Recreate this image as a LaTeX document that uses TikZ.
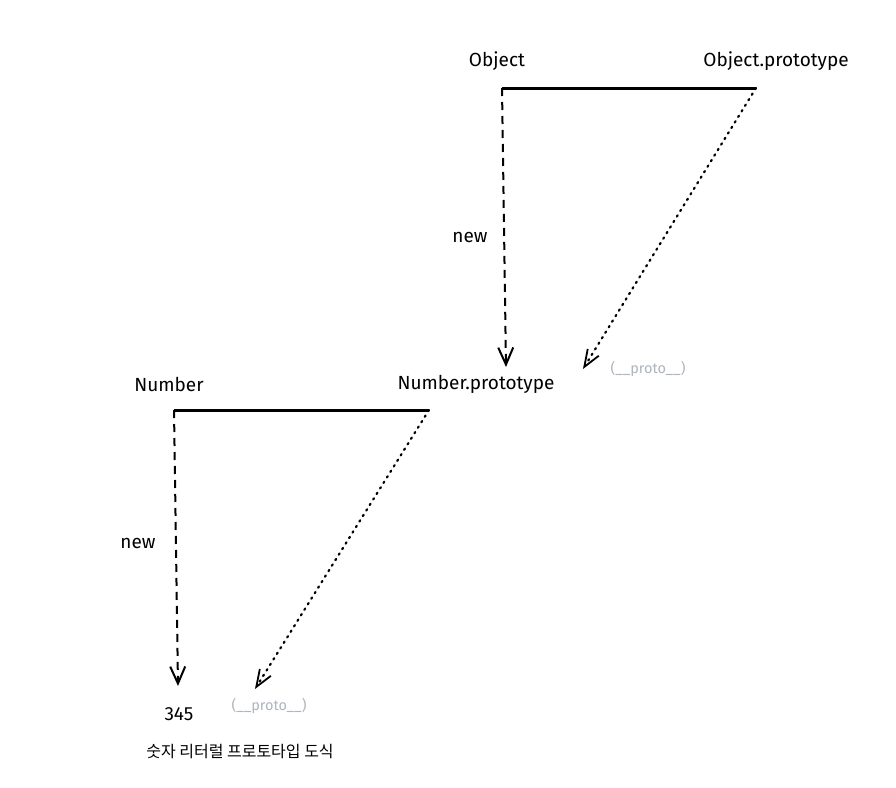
\documentclass[tikz,border=0pt]{standalone}
\usepackage{fontspec}
\setmainfont{Fira Sans}
\newfontfamily\krfont{Noto Sans CJK KR}
\usetikzlibrary{arrows.meta}
\definecolor{protogray}{HTML}{ADB5BF}
\tikzset{
  lbl/.style={font=\fontsize{19}{21}\selectfont, inner sep=0pt, anchor=center},
  protolbl/.style={font=\fontsize{14.5}{16}\selectfont, text=protogray, inner sep=0pt},
  solidbar/.style={line width=3pt},
  newarrow/.style={line width=2pt, dash pattern=on 8pt off 6pt, -{Straight Barb[length=17pt,width=15pt,line width=2pt]}},
  protoarrow/.style={line width=2.2pt, dash pattern=on 1.5pt off 5pt, line cap=round, -{Straight Barb[length=17pt,width=13pt,line width=1.8pt]}}
}
\begin{document}
\begin{tikzpicture}[x=1pt,y=-1pt]
\useasboundingbox (0,0) rectangle (896,787);
\fill[white] (0,0) rectangle (896,787);
% top group
\node[lbl] (obj) at (497,61) {Object};
\node[lbl] (objp) at (776,61) {Object.prototype};
\coordinate (o1) at (502,88);
\coordinate (o2) at (756,88);
\draw[solidbar] (o1) -- (o2);
\coordinate (o1e) at (506,367);
\coordinate (o2e) at (583,369);
\draw[newarrow] (o1) -- (o1e);
\draw[protoarrow] (o2) -- (o2e);
\node[lbl] (new1) at (470,237) {new};
\node[protolbl] (proto1) at (648,369) {(\_\_proto\_\_)};
% bottom group
\node[lbl] (num) at (169,384) {Number};
\node[lbl] (nump) at (476,384) {Number.prototype};
\coordinate (n1) at (174,410);
\coordinate (n2) at (429,410);
\draw[solidbar] (n1) -- (n2);
\coordinate (n1e) at (178,686);
\coordinate (n2e) at (255,689);
\draw[newarrow] (n1) -- (n1e);
\draw[protoarrow] (n2) -- (n2e);
\node[lbl] (new2) at (138,543) {new};
\node[protolbl] (proto2) at (269,706) {(\_\_proto\_\_)};
\node[lbl] (val) at (179,714) {345};
\node[font=\krfont\fontsize{16}{18}\selectfont, inner sep=0pt] (cap) at (240,752) {숫자 리터럴 프로토타입 도식};
\end{tikzpicture}
\end{document}
